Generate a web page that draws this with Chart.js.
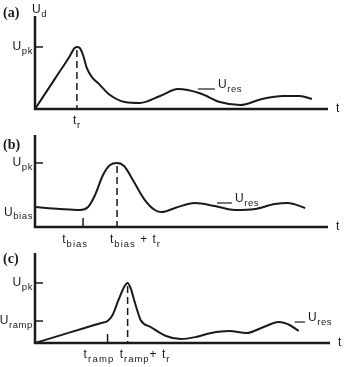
<!DOCTYPE html>
<html>
<head>
<meta charset="utf-8">
<script src="https://cdn.jsdelivr.net/npm/chart.js@4"></script>
<style>
  body { margin: 0; background: #fff; }
  #wrap { position: relative; width: 354px; height: 367px; }
  .panel { position: absolute; left: 0; top: 0; width: 354px; height: 367px; }
</style>
</head>
<body>
<div id="wrap">
  <div class="panel"><canvas id="ca"></canvas></div>
  <div class="panel"><canvas id="cb"></canvas></div>
  <div class="panel"><canvas id="cc"></canvas></div>
</div>
<script>
// panel (a): U_d vs t
const tA = [0, 7, 11.9, 13.3, 14.3, 15.2, 16.4, 17.7, 19.5, 21.5, 25.6, 30.7, 35.8, 42.7, 48.8, 56.3, 63.1, 70, 77.5, 84.6, 90.4, 94.5];
const uA = [0, 33.5, 57, 64.8, 66.7, 65.8, 58, 44, 34, 28, 15, 7.5, 6.5, 14, 21.5, 17, 7.5, 4.3, 10.8, 14, 14, 10.8];
// panel (b): with bias
const tB = [0, 8.5, 15.4, 18.1, 20.5, 23.2, 25.6, 28, 30.4, 33.4, 37.5, 40.9, 43.3, 47.8, 54.6, 61.4, 68.3, 75.1, 81.9, 86.3, 92.2];
const uB = [21.7, 19.6, 18.5, 21.7, 34.8, 56.5, 67.4, 69.6, 66.3, 51.1, 29.3, 18.5, 16.3, 20.7, 26.1, 22.8, 18.5, 19.6, 25, 26.1, 20.7];
// panel (c): with ramp
const tC = [0, 8, 16, 22.5, 24.6, 26.3, 28.3, 30.4, 31.4, 32.4, 34.1, 35.8, 39.2, 44.4, 49.5, 54.6, 59.7, 65.9, 71.7, 77.5, 82.6, 86.3, 89.4];
const uC = [0, 7.9, 15.9, 22.3, 24.4, 31.1, 47.8, 63.3, 66.7, 61.1, 42.2, 25.6, 17.8, 7.8, 4.4, 6.7, 11.1, 13.3, 11.1, 17.8, 23.3, 20, 13.3];

// marker values
const upkA = 66.7, trA = 14.3;
const upkB = 69.6, biasB = 16.4, peakB = 28, ubiasB = 16;
const upkC = 66.7, urampC = 24.4, rampC = 24.6, peakC = 31.4;
const uresA = [55.6, 61.4, 21.5];
const uresB = [62.1, 67.2, 26.1];
const uresC = [88, 91.5, 23.3];

const INK = '#1a1a1a';
const MAIN = '12px "Liberation Sans", Arial';
const SUB = '9.5px "Liberation Sans", Arial';

function drawParts(ctx, x, y, parts, align, spacing) {
  ctx.save();
  ctx.textBaseline = 'middle';
  ctx.textAlign = 'left';
  ctx.letterSpacing = (spacing || 0.6) + 'px';
  let w = 0;
  parts.forEach(([s, sub]) => {
    ctx.font = sub ? SUB : MAIN;
    w += ctx.measureText(s).width;
  });
  let cx = align === 'right' ? x - w : align === 'center' ? x - w / 2 : x;
  parts.forEach(([s, sub]) => {
    ctx.font = sub ? SUB : MAIN;
    ctx.fillStyle = INK;
    ctx.fillText(s, cx, sub ? y + 4 : y);
    cx += ctx.measureText(s).width;
  });
  ctx.restore();
}

function line(ctx, x1, y1, x2, y2, w, dash) {
  ctx.save();
  ctx.strokeStyle = INK;
  ctx.lineWidth = w;
  ctx.setLineDash(dash || []);
  ctx.beginPath();
  ctx.moveTo(x1, y1);
  ctx.lineTo(x2, y2);
  ctx.stroke();
  ctx.restore();
}

function panelPlugin(cfg) {
  return {
    id: 'panel',
    afterDraw(chart) {
      const ctx = chart.ctx;
      const xs = chart.scales.x, ys = chart.scales.y;
      const a = chart.chartArea;
      const px = v => xs.getPixelForValue(v);
      const py = v => ys.getPixelForValue(v);
      // axes
      line(ctx, a.left, a.top, a.left, a.bottom + 1, 2.5);
      line(ctx, a.left - 1, a.bottom, a.right, a.bottom, 2.5);
      drawParts(ctx, a.right + 8, a.bottom, [['t', false]], 'left');
      // panel tag
      ctx.save();
      ctx.font = 'bold 14px "Liberation Serif", serif';
      ctx.fillStyle = INK;
      ctx.textBaseline = 'middle';
      ctx.fillText(cfg.tag, 3, a.top + cfg.tagDy);
      ctx.restore();
      // y ticks + labels
      cfg.yticks.forEach(([v, parts, tick]) => {
        if (tick) line(ctx, a.left, py(v), a.left + 8, py(v), 1.5);
        drawParts(ctx, a.left - 2, py(v), parts, 'right');
      });
      // x ticks
      cfg.xticks.forEach(v => line(ctx, px(v), a.bottom - 9, px(v), a.bottom, 1.5));
      // dashed peak line
      line(ctx, px(cfg.peak[0]), py(cfg.peak[1]) + 3, px(cfg.peak[0]), a.bottom, 1.5, [7, 4]);
      // x labels
      cfg.xlabels.forEach(([v, dx, parts, align, sp]) => drawParts(ctx, px(v) + dx, a.bottom + cfg.xlabDy, parts, align, sp));
      // U_res marker
      const r = cfg.ures;
      line(ctx, px(r[0]), py(r[2]), px(r[1]), py(r[2]), 1.2);
      drawParts(ctx, px(r[1]) + 3, py(r[2]) - 4, [['U', false], ['res', true]], 'left');
      if (cfg.extra) cfg.extra(ctx, a, px, py);
    }
  };
}

function makeChart(id, tt, uu, pad, cfg) {
  return new Chart(document.getElementById(id), {
    type: 'line',
    data: {
      datasets: [{
        data: tt.map((t, i) => ({ x: t, y: uu[i] })),
        borderColor: INK,
        borderWidth: 2,
        pointRadius: 0,
        cubicInterpolationMode: 'monotone',
        fill: false
      }]
    },
    options: {
      responsive: true,
      maintainAspectRatio: false,
      animation: false,
      layout: { padding: pad },
      plugins: { legend: { display: false }, tooltip: { enabled: false } },
      scales: {
        x: { type: 'linear', min: 0, max: 100, display: false },
        y: { min: 0, max: 100, display: false }
      }
    },
    plugins: [panelPlugin(cfg)]
  });
}

makeChart('ca', tA, uA, { left: 35, right: 26, top: 16, bottom: 258 }, {
  tag: '(a)', tagDy: -3,
  yticks: [[upkA, [['U', false], ['pk', true]], true]],
  xticks: [],
  peak: [trA, upkA],
  xlabDy: 12,
  xlabels: [[trA, 0, [['t', false], ['r', true]], 'center']],
  ures: uresA,
  extra(ctx, a) {
    drawParts(ctx, a.left - 3, a.top - 6, [['U', false], ['d', true]], 'left');
  }
});

makeChart('cb', tB, uB, { left: 35, right: 26, top: 135, bottom: 140 }, {
  tag: '(b)', tagDy: 10,
  yticks: [[upkB, [['U', false], ['pk', true]], true], [ubiasB, [['U', false], ['bias', true]], false]],
  xticks: [biasB],
  peak: [peakB, upkB],
  xlabDy: 13,
  xlabels: [
    [biasB, 5, [['t', false], ['bias', true]], 'right', 1],
    [peakB, -7, [['t', false], ['bias', true], [' + t', false], ['r', true]], 'left', 1]
  ],
  ures: uresB
});

makeChart('cc', tC, uC, { left: 35, right: 24, top: 253, bottom: 24 }, {
  tag: '(c)', tagDy: 6,
  yticks: [[upkC, [['U', false], ['pk', true]], true], [urampC, [['U', false], ['ramp', true]], true]],
  xticks: [rampC],
  peak: [peakC, upkC],
  xlabDy: 12,
  xlabels: [
    [rampC, -24, [['t', false], ['ramp', true]], 'left', 1.2],
    [peakC, -8, [['t', false], ['ramp', true], ['+ t', false], ['r', true]], 'left', 1]
  ],
  ures: uresC
});
</script>
</body>
</html>
